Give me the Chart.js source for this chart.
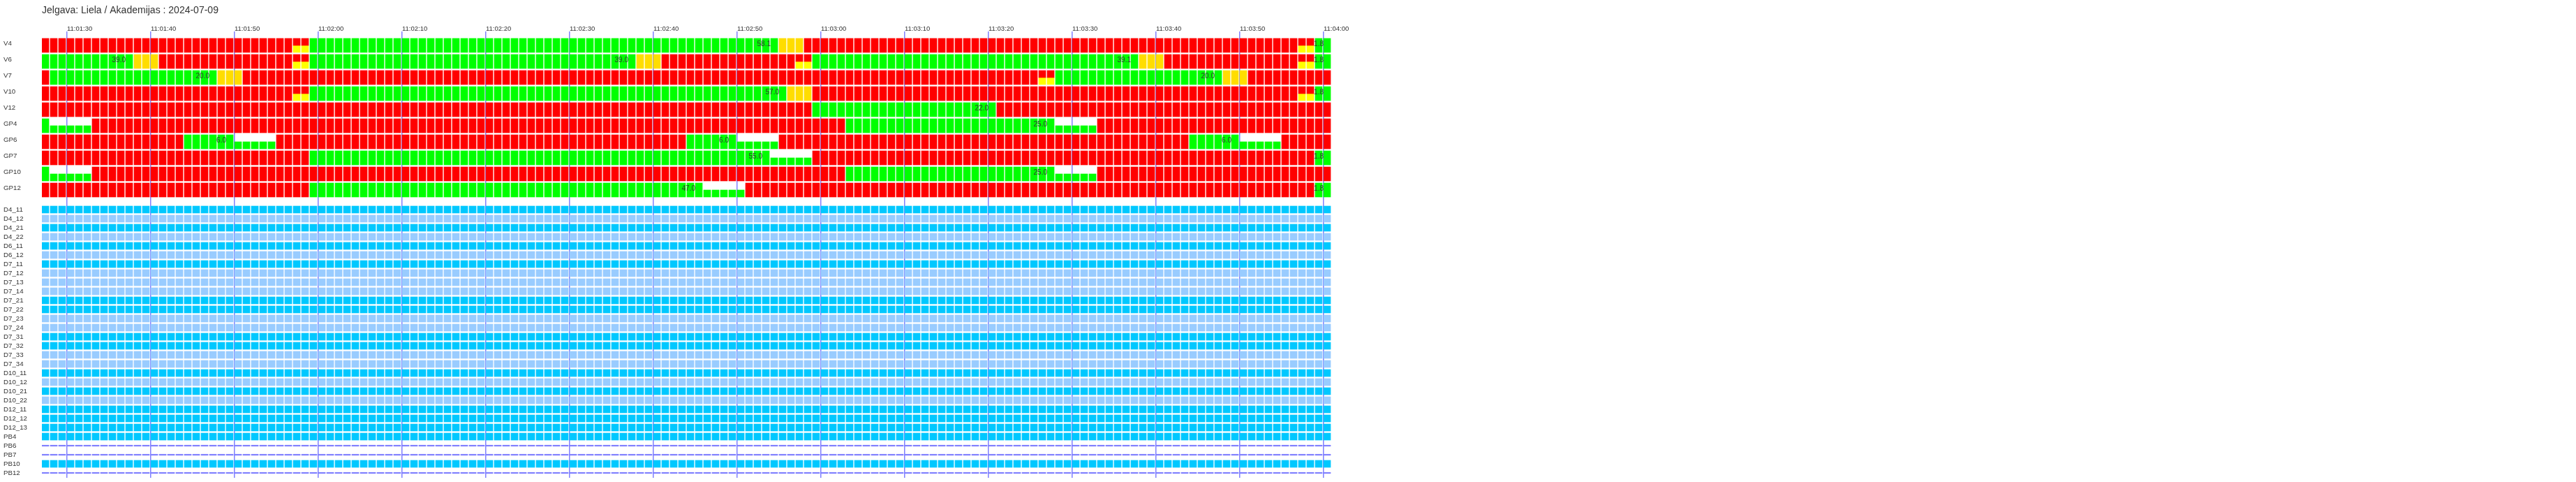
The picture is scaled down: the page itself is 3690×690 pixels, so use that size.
<!DOCTYPE html>
<html>
<head>
<meta charset="utf-8">
<title>Jelgava: Liela / Akademijas</title>
<script src="https://cdn.jsdelivr.net/npm/chart.js@4.4.1/dist/chart.umd.min.js"></script>
<style>
    html, body { margin: 0; padding: 0; background: #fff; }
    canvas { display: block; }
</style>
</head>
<body>
<canvas id="timeline" width="3690" height="690"></canvas>
<script>
// ---- Data ----
const chartTitle = 'Jelgava: Liela / Akademijas : 2024-07-09';
const startTime = '11:01:27';   // time of the first one-second column
const columnCount = 154;
const tickLabels = [
    '11:01:30', '11:01:40', '11:01:50', '11:02:00', '11:02:10', '11:02:20',
    '11:02:30', '11:02:40', '11:02:50', '11:03:00', '11:03:10', '11:03:20',
    '11:03:30', '11:03:40', '11:03:50', '11:04:00'
];

// Signal groups as runs of [state, seconds]
// R = red, G = green, Y = amber, g = green extension (half bar), RY = red + yellow
const signalNames = ['V4', 'V6', 'V7', 'V10', 'V12', 'GP4', 'GP6', 'GP7', 'GP10', 'GP12'];
const V4   = [['R', 30], ['RY', 2], ['G', 56], ['Y', 3], ['R', 59], ['RY', 2], ['G', 2]];
const V6   = [['G', 11], ['Y', 3], ['R', 16], ['RY', 2], ['G', 39], ['Y', 3], ['R', 16], ['RY', 2], ['G', 39], ['Y', 3], ['R', 16], ['RY', 2], ['G', 2]];
const V7   = [['R', 1], ['G', 20], ['Y', 3], ['R', 95], ['RY', 2], ['G', 20], ['Y', 3], ['R', 10]];
const V10  = [['R', 30], ['RY', 2], ['G', 57], ['Y', 3], ['R', 58], ['RY', 2], ['G', 2]];
const V12  = [['R', 92], ['G', 22], ['R', 40]];
const GP4  = [['G', 1], ['g', 5], ['R', 90], ['G', 25], ['g', 5], ['R', 28]];
const GP6  = [['R', 17], ['G', 6], ['g', 5], ['R', 49], ['G', 6], ['g', 5], ['R', 49], ['G', 6], ['g', 5], ['R', 6]];
const GP7  = [['R', 32], ['G', 55], ['g', 5], ['R', 60], ['G', 2]];
const GP10 = [['G', 1], ['g', 5], ['R', 90], ['G', 25], ['g', 5], ['R', 28]];
const GP12 = [['R', 32], ['G', 47], ['g', 5], ['R', 68], ['G', 2]];
const signalRuns = [V4, V6, V7, V10, V12, GP4, GP6, GP7, GP10, GP12];

// Counter texts printed in the cells: [signal, column, text]
const phaseTexts = [
    ['V4', 87, '58.1'], ['V4', 153, '1.8'],
    ['V6', 10, '39.0'], ['V6', 70, '39.0'], ['V6', 130, '39.1'], ['V6', 153, '1.8'],
    ['V7', 20, '20.0'], ['V7', 140, '20.0'],
    ['V10', 88, '57.0'], ['V10', 153, '1.8'],
    ['V12', 113, '22.0'],
    ['GP4', 120, '25.0'],
    ['GP6', 22, '6.0'], ['GP6', 82, '6.0'], ['GP6', 142, '6.0'],
    ['GP7', 86, '55.0'], ['GP7', 153, '1.8'],
    ['GP10', 120, '25.0'],
    ['GP12', 78, '47.0'], ['GP12', 153, '1.8']
];

// Detectors: 1 = occupied, 0 = free, -1 = no data
const detectorNames = [
    'D4_11', 'D4_12', 'D4_21', 'D4_22', 'D6_11', 'D6_12', 'D7_11', 'D7_12', 'D7_13', 'D7_14',
    'D7_21', 'D7_22', 'D7_23', 'D7_24', 'D7_31', 'D7_32', 'D7_33', 'D7_34', 'D10_11', 'D10_12',
    'D10_21', 'D10_22', 'D12_11', 'D12_12', 'D12_13', 'PB4', 'PB6', 'PB7', 'PB10', 'PB12'
];
const detectorStates = [
    1, 0, 1, 0, 1, 0, 1, 0, 0, 0,
    1, 1, 0, 0, 1, 1, 0, 0, 1, 0,
    1, 0, 1, 1, 1, 1, -1, -1, 1, -1
];

// ---- Layout / style ----
const SIG_TOP = 10, SIG_PITCH = 23, SIG_HEIGHT = 20, SIG_LABEL_DY = 7, TEXT_BASELINE_DY = 10.5;
const DET_TOP = 250, DET_PITCH = 13, DET_HEIGHT = 10, DET_LABEL_DY = 5.8, DASH_HEIGHT = 1.5;
const Y_RANGE = 639;
const CELL_FILL = 10 / 12;     // part of a second covered by a cell
const X_AXIS_HEIGHT = 19.2;

const RED = '#ff0000', GREEN = '#00ff00', AMBER = '#ffdd00', YELLOW = '#ffff00';
const DET_ON = '#00c8ff', DET_OFF = '#99ccff', LINE_BLUE = '#8080ff';
const stateColors = { R: RED, G: GREEN, Y: AMBER };

function toSeconds(t) {
    const p = t.split(':').map(Number);
    return p[0] * 3600 + p[1] * 60 + p[2];
}

document.addEventListener('DOMContentLoaded', function() {
    Chart.defaults.font.family = '"Liberation Sans", Arial, sans-serif';
    Chart.defaults.color = '#333';

    // Collect cells per colour
    const buckets = {};
    function addCell(color, col, top, bottom) {
        if (!buckets[color]) buckets[color] = [];
        buckets[color].push({ x: col + CELL_FILL / 2, y: [top, bottom] });
    }

    signalRuns.forEach((runs, row) => {
        const top = SIG_TOP + row * SIG_PITCH;
        const mid = top + SIG_HEIGHT / 2;
        const bottom = top + SIG_HEIGHT;
        let col = 0;
        runs.forEach(([state, len]) => {
            for (let i = 0; i < len; i++, col++) {
                if (state === 'RY') {
                    addCell(RED, col, top, mid);
                    addCell(YELLOW, col, mid, bottom);
                } else if (state === 'g') {
                    addCell(GREEN, col, mid, bottom);
                } else {
                    addCell(stateColors[state], col, top, bottom);
                }
            }
        });
    });

    detectorStates.forEach((state, row) => {
        const top = DET_TOP + row * DET_PITCH;
        const mid = top + DET_HEIGHT / 2;
        for (let col = 0; col < columnCount; col++) {
            if (state < 0) {
                addCell(LINE_BLUE, col, mid - DASH_HEIGHT / 2, mid + DASH_HEIGHT / 2);
            } else {
                addCell(state ? DET_ON : DET_OFF, col, top, top + DET_HEIGHT);
            }
        }
    });

    const datasets = Object.keys(buckets).map(color => ({
        data: buckets[color],
        backgroundColor: color,
        borderWidth: 0,
        barThickness: 10,
        grouped: false
    }));

    const rowNames = signalNames.concat(detectorNames);
    const rowLabelPos = signalNames.map((n, i) => SIG_TOP + i * SIG_PITCH + SIG_LABEL_DY)
        .concat(detectorNames.map((n, j) => DET_TOP + j * DET_PITCH + DET_LABEL_DY));

    const t0 = toSeconds(startTime);
    const tickValues = tickLabels.map(t => toSeconds(t) - t0);

    // Counter texts over the cells
    const phaseTextPlugin = {
        id: 'phaseTexts',
        afterDatasetsDraw(chart) {
            const { ctx, scales: { x, y } } = chart;
            ctx.save();
            ctx.font = '10px "Liberation Sans", Arial, sans-serif';
            ctx.fillStyle = '#333';
            ctx.textAlign = 'right';
            ctx.textBaseline = 'alphabetic';
            phaseTexts.forEach(([name, col, text]) => {
                const row = signalNames.indexOf(name);
                const top = SIG_TOP + row * SIG_PITCH;
                ctx.fillText(text, x.getPixelForValue(col), y.getPixelForValue(top + TEXT_BASELINE_DY));
            });
            ctx.restore();
        }
    };

    const ctx = document.getElementById('timeline').getContext('2d');
    new Chart(ctx, {
        type: 'bar',
        data: { datasets: datasets },
        plugins: [phaseTextPlugin],
        options: {
            responsive: false,
            animation: false,
            layout: { padding: { left: 5, right: 1782, top: 0, bottom: 6 } },
            plugins: {
                legend: { display: false },
                tooltip: { enabled: false },
                title: {
                    display: true,
                    text: chartTitle,
                    align: 'start',
                    fullSize: false,
                    color: '#333',
                    font: { size: 14, weight: 'normal' },
                    padding: { top: 7, bottom: 2 }
                }
            },
            scales: {
                x: {
                    type: 'linear',
                    position: 'top',
                    min: 0,
                    max: columnCount,
                    offset: false,
                    z: 1,
                    grid: { color: LINE_BLUE, lineWidth: 1.5, drawTicks: false, offset: false },
                    border: { display: false },
                    ticks: {
                        autoSkip: false,
                        maxRotation: 0,
                        align: 'start',
                        padding: -2,
                        color: '#333',
                        font: { size: 9.5 },
                        callback: (v, i) => tickLabels[i]
                    },
                    afterBuildTicks: axis => { axis.ticks = tickValues.map(v => ({ value: v })); },
                    afterFit: axis => { axis.height = X_AXIS_HEIGHT; }
                },
                y: {
                    type: 'linear',
                    reverse: true,
                    min: 0,
                    max: Y_RANGE,
                    grid: { display: false },
                    border: { display: false },
                    ticks: {
                        autoSkip: false,
                        crossAlign: 'far',
                        padding: 0,
                        color: '#333',
                        font: { size: 9.7 },
                        callback: (v, i) => rowNames[i]
                    },
                    afterBuildTicks: axis => { axis.ticks = rowLabelPos.map(v => ({ value: v })); },
                    afterFit: axis => { axis.width = 55; }
                }
            }
        }
    });
});
</script>
</body>
</html>
